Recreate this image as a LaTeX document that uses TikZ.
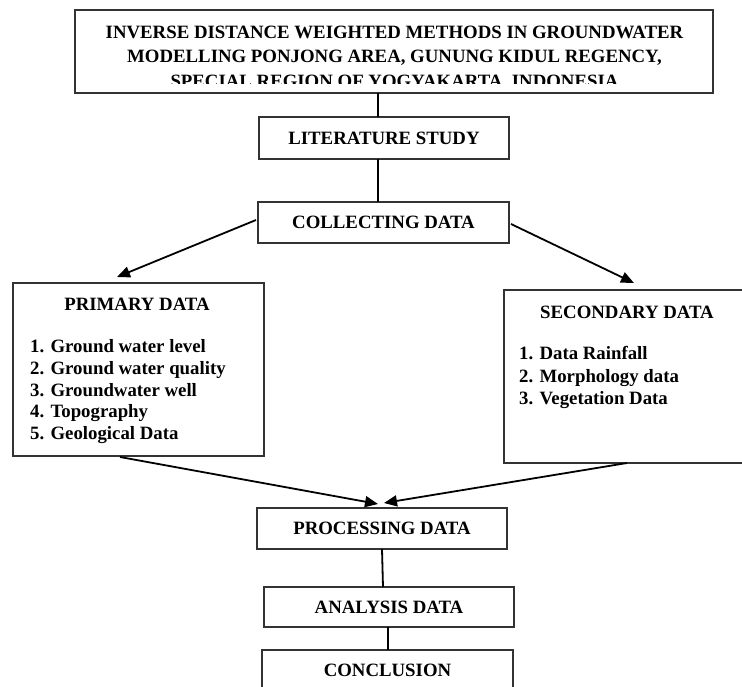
\documentclass[tikz,border=0pt]{standalone}
\usepackage{fontspec}
\setmainfont{Liberation Serif}
\usetikzlibrary{arrows.meta}
\begin{document}
\begin{tikzpicture}[x=1pt,y=-1pt,
  box/.style={draw=black!80, line width=1.2pt, inner sep=0pt, minimum height=41pt},
  txt/.style={font=\bfseries\fontsize{18.8}{23.5}\selectfont, inner sep=0pt},
  conn/.style={draw=black, line width=1.8pt},
  arr/.style={draw=black, line width=1.8pt, -{Triangle[length=13pt,width=11pt]}}
]
\useasboundingbox (0,0) rectangle (742,686);
% title
\node[box, minimum width=638pt, minimum height=83pt] (title) at (394,51.5) {};
\begin{scope}
\clip (75,10) rectangle (713,83);
\node[txt, anchor=base] (tt1) at (394.5,38.3) {INVERSE DISTANCE WEIGHTED METHODS IN GROUNDWATER};
\node[txt, anchor=base] (tt2) at (394.5,62.6) {MODELLING PONJONG AREA, GUNUNG KIDUL REGENCY,};
\node[txt, anchor=base] (tt3) at (394.5,87) {SPECIAL REGION OF YOGYAKARTA, INDONESIA};
\end{scope}
% chain boxes
\node[box, txt, minimum width=250pt, minimum height=42pt] (lit) at (384,138) {LITERATURE STUDY};
\node[box, txt, minimum width=251pt] (col) at (383.5,222.5) {COLLECTING DATA};
\node[box, txt, minimum width=250pt] (proc) at (382,528.5) {PROCESSING DATA};
\node[box, txt, minimum width=250pt, minimum height=40pt] (ana) at (389,607) {ANALYSIS DATA};
\node[box, txt, minimum width=251pt, minimum height=40pt] (conc) at (387.5,670) {CONCLUSION};
% primary
\node[box, minimum width=251pt, minimum height=173pt] (prim) at (138.5,369.5) {};
\node[txt, anchor=base] (primt) at (137,310.5) {PRIMARY DATA};
\node[txt, anchor=base west] (p1) at (30,352.5) {1. Ground water level};
\node[txt, anchor=base west] (p2) at (30,374.2) {2. Ground water quality};
\node[txt, anchor=base west] (p3) at (30,396) {3. Groundwater well};
\node[txt, anchor=base west] (p4) at (30,417.7) {4. Topography};
\node[txt, anchor=base west] (p5) at (30,439.5) {5. Geological Data};
% secondary
\node[box, minimum width=246pt, minimum height=173pt] (sec) at (627,376.5) {};
\node[txt, anchor=base] (sect) at (627,318.5) {SECONDARY DATA};
\node[txt, anchor=base west] (s1) at (519,359.5) {1. Data Rainfall};
\node[txt, anchor=base west] (s2) at (519,382) {2. Morphology data};
\node[txt, anchor=base west] (s3) at (519,404.5) {3. Vegetation Data};
% connectors
\coordinate (t1) at (378,93);
\coordinate (l1) at (378,117);
\draw[conn] (t1) -- (l1);
\coordinate (l2) at (378,159);
\coordinate (c1) at (378,202);
\draw[conn] (l2) -- (c1);
\coordinate (cl) at (256,220);
\coordinate (pa) at (117,277);
\draw[arr] (cl) -- (pa);
\coordinate (cr) at (511,224);
\coordinate (sa) at (634,283);
\draw[arr] (cr) -- (sa);
\coordinate (pb) at (120,457);
\coordinate (pt1) at (378,504);
\draw[arr] (pb) -- (pt1);
\coordinate (sb) at (627,463);
\coordinate (pt2) at (384,503);
\draw[arr] (sb) -- (pt2);
\coordinate (pr1) at (382,549);
\coordinate (an1) at (383,587);
\draw[conn] (pr1) -- (an1);
\coordinate (an2) at (388,627);
\coordinate (co1) at (388,650);
\draw[conn] (an2) -- (co1);
\end{tikzpicture}
\end{document}
